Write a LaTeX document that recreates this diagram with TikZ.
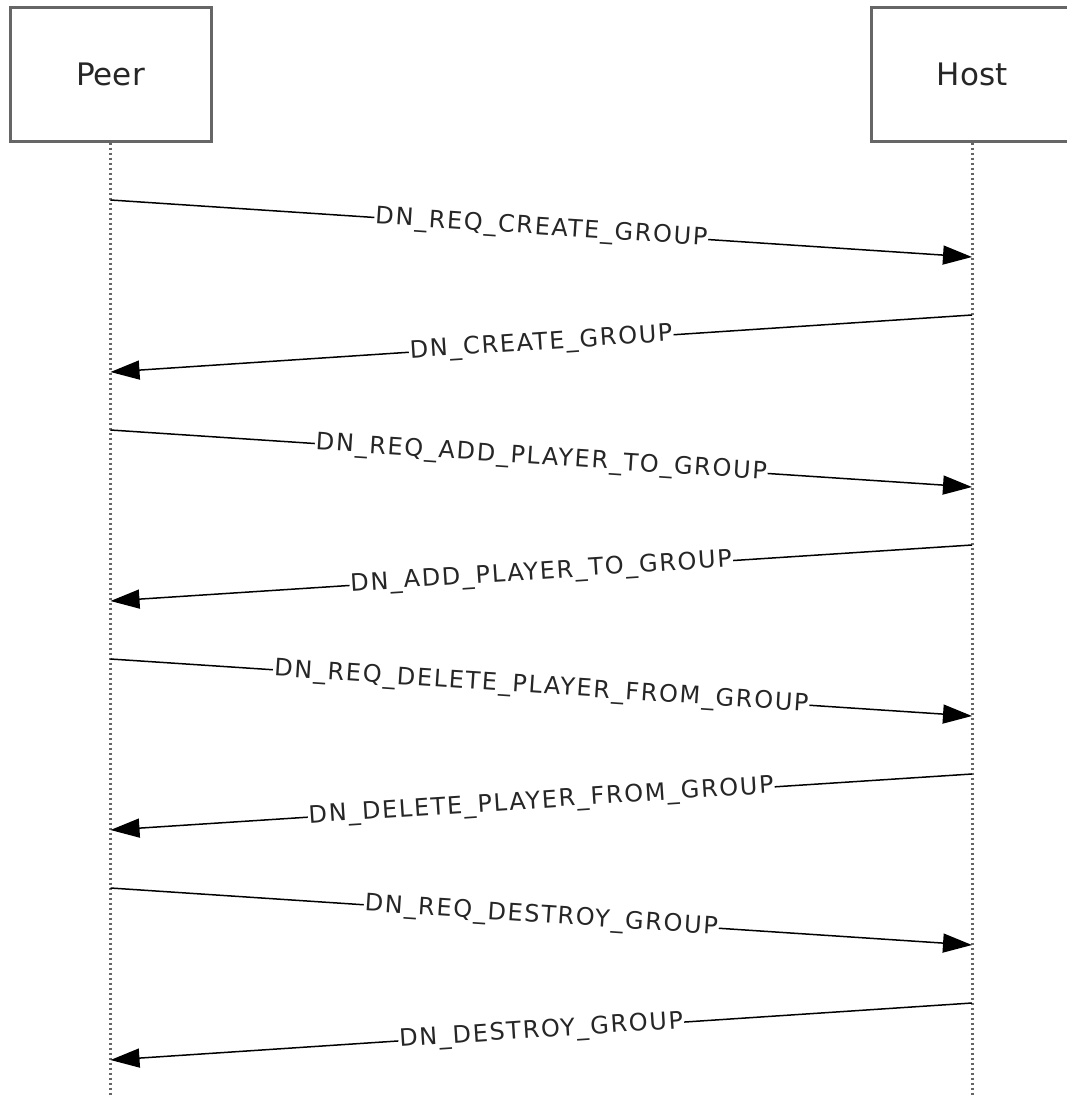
\documentclass[tikz,border=0pt]{standalone}
\usepackage{fontspec}
\setmainfont{DejaVu Sans}
\newfontfamily\lblfont[LetterSpace=7]{DejaVu Sans}
\usetikzlibrary{arrows.meta}
\begin{document}
\begin{tikzpicture}[x=1pt,y=-1pt,
 actor/.style={draw=black!60, line width=3pt, minimum width=201pt, minimum height=133pt, inner sep=0pt, text=black!85, font=\fontsize{31}{36}\selectfont},
 lifeline/.style={draw=black!60, line width=3pt, dash pattern=on 2.6pt off 2.4pt},
 msg/.style={draw=black, line width=1.5pt, -{Triangle[length=29pt,width=19pt]}},
 lbl/.style={sloped, fill=white, inner sep=1pt, text=black!85, font=\lblfont\fontsize{24}{28}\selectfont}]
\useasboundingbox (0,0) rectangle (1066,1097);
\node[actor] (peer) at (110.5,74.5) {Peer};
\node[actor] (host) at (972,74.5) {Host};
\coordinate (peerend) at (110.5,1097);
\coordinate (hostend) at (972,1097);
\draw[lifeline] (peer.south) -- (peerend);
\draw[lifeline] (host.south) -- (hostend);
% messages
\coordinate (p1) at (110.5,200);  \coordinate (h1) at (972,257);
\coordinate (h2) at (972,315);    \coordinate (p2) at (110.5,372);
\coordinate (p3) at (110.5,430);  \coordinate (h3) at (972,487);
\coordinate (h4) at (972,545);    \coordinate (p4) at (110.5,601);
\coordinate (p5) at (110.5,659);  \coordinate (h5) at (972,716);
\coordinate (h6) at (972,774);    \coordinate (p6) at (110.5,830);
\coordinate (p7) at (110.5,888);  \coordinate (h7) at (972,945);
\coordinate (h8) at (972,1003);   \coordinate (p8) at (110.5,1060);
\draw[msg] (p1) -- node[lbl] (l1) {DN\_REQ\_CREATE\_GROUP} (h1);
\draw[msg] (h2) -- node[lbl] (l2) {DN\_CREATE\_GROUP} (p2);
\draw[msg] (p3) -- node[lbl] (l3) {DN\_REQ\_ADD\_PLAYER\_TO\_GROUP} (h3);
\draw[msg] (h4) -- node[lbl] (l4) {DN\_ADD\_PLAYER\_TO\_GROUP} (p4);
\draw[msg] (p5) -- node[lbl] (l5) {DN\_REQ\_DELETE\_PLAYER\_FROM\_GROUP} (h5);
\draw[msg] (h6) -- node[lbl] (l6) {DN\_DELETE\_PLAYER\_FROM\_GROUP} (p6);
\draw[msg] (p7) -- node[lbl] (l7) {DN\_REQ\_DESTROY\_GROUP} (h7);
\draw[msg] (h8) -- node[lbl] (l8) {DN\_DESTROY\_GROUP} (p8);
\end{tikzpicture}
\end{document}
